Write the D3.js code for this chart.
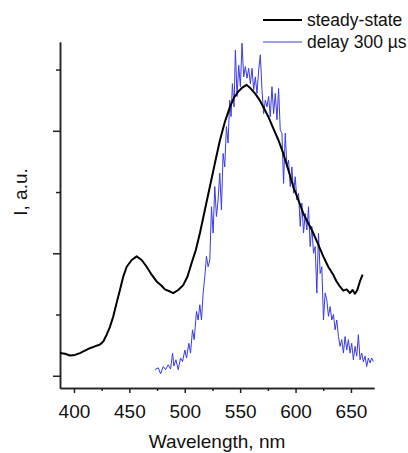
<!DOCTYPE html>
<html>
<head>
<meta charset="utf-8">
<script src="https://cdn.jsdelivr.net/npm/d3@7"></script>
<style>
  body { margin: 0; background: #fff; }
  svg text { font-family: "Liberation Sans", Arial, sans-serif; fill: #111; }
  .axis path, .axis line { stroke: #222; stroke-width: 1.5; }
</style>
</head>
<body>
<div id="vis"></div>
<script>
// steady-state spectrum (wavelength nm, intensity a.u.)
var steadyWl = [387.4, 391.9, 396.4, 400.9, 405.4, 409.9, 414.4, 418.9, 423.5, 426.5, 429.5, 432.5, 435.5,
  438.5, 441.5, 444.5, 447.6, 452.1, 456.6, 461.1, 465.6, 470.1, 474.6, 479.1, 482.1, 486.1, 489.6, 494.1,
  498.6, 502.5, 506.2, 510.1, 513.7, 518.2, 522.7, 527.2, 531.8, 536.3, 540.8, 544.7, 548.3, 552.2, 555.9,
  559.5, 563.4, 567.3, 570.9, 575.4, 579.9, 584.5, 588.9, 593.5, 597.9, 602.5, 607.0, 611.5, 616.0, 620.5,
  625.0, 629.5, 634.0, 637.0, 640.0, 643.1, 646.1, 649.1, 651.5, 653.6, 655.7, 658.1, 660.5];
var steadyI = [0.37, 0.36, 0.33, 0.34, 0.37, 0.41, 0.45, 0.48, 0.51, 0.56, 0.67, 0.80, 0.97,
  1.19, 1.40, 1.62, 1.78, 1.89, 1.95, 1.89, 1.78, 1.65, 1.54, 1.47, 1.41, 1.38, 1.35, 1.40,
  1.48, 1.62, 1.84, 2.06, 2.33, 2.71, 3.09, 3.47, 3.85, 4.15, 4.39, 4.55, 4.64, 4.71, 4.75,
  4.69, 4.61, 4.51, 4.39, 4.23, 4.04, 3.85, 3.63, 3.36, 3.09, 2.87, 2.65, 2.49, 2.33, 2.14,
  1.95, 1.78, 1.65, 1.54, 1.46, 1.39, 1.41, 1.35, 1.40, 1.34, 1.40, 1.54, 1.65];

// delayed (300 us) spectrum
var delayWl = [473.1, 476.1, 478.2, 480.6, 482.7, 485.1, 487.2, 489.0, 490.2, 492.0, 494.1, 496.2, 498.0,
  500.1, 501.6, 503.7, 505.2, 507.0, 508.5, 510.6, 512.1, 513.6, 515.1, 516.6, 518.1, 519.6, 521.1, 522.6,
  524.1, 525.6, 527.1, 528.6, 530.1, 531.6, 533.1, 534.6, 536.1, 537.6, 539.1, 540.6, 541.8, 543.0, 544.5,
  545.7, 547.2, 548.7, 550.2, 551.7, 553.2, 554.7, 556.2, 557.7, 559.2, 560.7, 562.2, 563.7, 565.2, 566.7,
  568.2, 569.7, 571.2, 572.7, 574.2, 575.7, 577.2, 578.7, 580.2, 581.7, 583.2, 584.7, 586.2, 587.7, 589.2,
  590.7, 592.2, 593.7, 595.2, 596.7, 598.2, 599.7, 601.2, 602.7, 604.2, 605.7, 607.2, 608.7, 610.2, 611.7,
  613.2, 614.7, 616.2, 617.7, 619.2, 620.7, 622.2, 623.7, 625.2, 626.7, 628.2, 629.7, 631.2, 632.7, 634.2,
  635.7, 637.2, 638.7, 640.2, 641.7, 643.2, 644.7, 646.2, 647.7, 649.2, 650.7, 652.2, 653.7, 655.2, 656.7,
  658.2, 659.7, 661.2, 662.7, 664.2, 665.7, 667.2, 668.7, 670.2];
var delayI = [0.10, 0.13, 0.03, 0.15, 0.10, 0.18, 0.11, 0.37, 0.16, 0.26, 0.10, 0.29, 0.23,
  0.42, 0.29, 0.53, 0.37, 0.75, 0.59, 1.05, 0.91, 1.16, 0.91, 1.35, 1.62, 1.95, 1.78, 1.89,
  2.76, 2.33, 3.09, 2.60, 2.87, 3.31, 2.71, 3.63, 3.41, 4.07, 3.80, 4.50, 4.23, 4.77, 4.39,
  5.32, 4.56, 5.07, 4.72, 5.43, 4.88, 5.05, 4.86, 5.02, 4.77, 5.02, 4.67, 4.88, 4.61, 4.99,
  5.24, 4.67, 4.28, 4.50, 4.39, 4.56, 4.23, 4.72, 4.28, 4.61, 4.18, 4.69, 4.01, 3.96, 3.14,
  3.96, 3.41, 3.52, 3.09, 3.41, 2.98, 3.25, 2.87, 2.98, 2.44, 2.82, 2.33, 2.65, 2.38, 2.76,
  2.11, 2.44, 2.00, 2.11, 1.35, 2.33, 1.67, 1.78, 0.91, 1.35, 1.24, 0.97, 1.13, 0.91, 1.00,
  0.75, 0.91, 0.64, 0.48, 0.59, 0.37, 0.64, 0.42, 0.59, 0.37, 0.53, 0.26, 0.48, 0.32, 0.67,
  0.26, 0.37, 0.23, 0.32, 0.15, 0.29, 0.21, 0.29, 0.23];

var xMajor = [400, 450, 500, 550, 600, 650];
var xMinor = [425, 475, 525, 575, 625];
var yMajor = [0, 2, 4];
var yMinor = [1, 3, 5];

var seriesNames = ["steady-state", "delay 300 \u00b5s"];
var seriesColors = ["#000000", "#3a3ae6"];

var width = 408, height = 453;
var svg = d3.select("#vis").append("svg")
    .attr("width", width)
    .attr("height", height);

var x = d3.scaleLinear().domain([387.4, 670.8]).range([60, 374]);
var y = d3.scaleLinear().domain([-0.2, 5.45]).range([388, 42]);

// axes
svg.append("g")
    .attr("class", "axis")
    .attr("transform", "translate(0,388)")
    .call(d3.axisBottom(x).tickValues(xMinor).tickSize(3).tickSizeOuter(0).tickFormat(""));
var xAxis = svg.append("g")
    .attr("class", "axis")
    .attr("transform", "translate(0,388)")
    .call(d3.axisBottom(x).tickValues(xMajor).tickSize(5).tickSizeOuter(0).tickPadding(11.5));
xAxis.selectAll("text").style("font-size", "19px");

svg.append("g")
    .attr("class", "axis")
    .attr("transform", "translate(60,0)")
    .call(d3.axisLeft(y).tickValues(yMinor).tickSize(4).tickSizeOuter(0).tickFormat(""));
svg.append("g")
    .attr("class", "axis")
    .attr("transform", "translate(60,0)")
    .call(d3.axisLeft(y).tickValues(yMajor).tickSize(7).tickSizeOuter(0).tickFormat(""));

svg.append("text")
    .attr("x", 217)
    .attr("y", 448)
    .attr("text-anchor", "middle")
    .style("font-size", "19px")
    .text("Wavelength, nm");

svg.append("text")
    .attr("transform", "translate(27,192) rotate(-90)")
    .attr("text-anchor", "middle")
    .style("font-size", "19px")
    .text("I, a.u.");

// lines
var line = d3.line()
    .x(function(d) { return x(d[0]); })
    .y(function(d) { return y(d[1]); });

var steady = d3.zip(steadyWl, steadyI);
var delay = d3.zip(delayWl, delayI);

svg.append("path")
    .datum(delay)
    .attr("fill", "none")
    .attr("stroke", seriesColors[1])
    .attr("stroke-width", 1)
    .attr("d", line);

svg.append("path")
    .datum(steady)
    .attr("fill", "none")
    .attr("stroke", seriesColors[0])
    .attr("stroke-width", 2)
    .attr("stroke-linejoin", "round")
    .attr("d", line);

// legend
var legend = svg.append("g").attr("class", "legend");
var legendRows = [20, 42];
seriesNames.forEach(function(name, i) {
  legend.append("line")
      .attr("x1", 263).attr("x2", 302)
      .attr("y1", legendRows[i]).attr("y2", legendRows[i])
      .attr("stroke", seriesColors[i])
      .attr("stroke-width", i == 0 ? 2 : 1);
  legend.append("text")
      .attr("x", 307)
      .attr("y", legendRows[i] + 6)
      .style("font-size", "17.5px")
      .text(name);
});
</script>
</body>
</html>
